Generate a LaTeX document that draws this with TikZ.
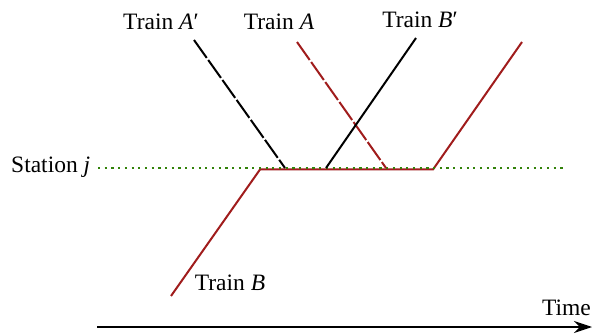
\documentclass[tikz,border=0pt]{standalone}
\usepackage{fontspec}
\setmainfont{Liberation Serif}
\usetikzlibrary{arrows.meta}
\definecolor{trainred}{RGB}{160,28,28}
\definecolor{stgreen}{RGB}{50,130,10}
\tikzset{
  lbl/.style={anchor=base, inner sep=0pt, font=\fontsize{23.5}{28}\selectfont},
  redline/.style={draw=trainred, line width=2pt},
  blackline/.style={draw=black, line width=2pt},
  longdash/.style={dash pattern=on 22pt off 2.5pt},
  station/.style={draw=stgreen, line width=2.3pt, dash pattern=on 2.2pt off 4.5pt},
  axis/.style={draw=black, line width=1.8pt, -{Stealth[length=18pt,width=12pt]}}
}
\begin{document}
\begin{tikzpicture}[x=1pt,y=-1pt]
\useasboundingbox (0,0) rectangle (593,336);
% coordinates
\coordinate (b0) at (171,296);
\coordinate (b1) at (260,169.5);
\coordinate (b2) at (433,169.5);
\coordinate (b3) at (522,42);
\coordinate (ap0) at (194,40);
\coordinate (ap1) at (285,168);
\coordinate (a0) at (297,42);
\coordinate (a1) at (386,168);
\coordinate (bp0) at (416,38);
\coordinate (bp1) at (326,168);
\coordinate (st0) at (98,168);
\coordinate (st1) at (566,168);
\coordinate (t0) at (97,327);
\coordinate (t1) at (592,327);
% lines
\draw[redline, line join=miter] (b0) -- (b1) -- (b2) -- (b3);
\draw[station] (st0) -- (st1);
\draw[blackline, longdash] (ap0) -- (ap1);
\draw[redline, longdash] (a0) -- (a1);
\draw[blackline] (bp0) -- (bp1);
\draw[axis] (t0) -- (t1);
% labels
\node[lbl] (lAp) at (161,30) {Train \textit{A}′};
\node[lbl] (lA) at (279,30) {Train \textit{A}};
\node[lbl] (lBp) at (420,28) {Train \textit{B}′};
\node[lbl] (lB) at (230,290) {Train \textit{B}};
\node[lbl, anchor=base west] (lS) at (11,173) {Station \textit{j}};
\node[lbl, anchor=base east] (lT) at (591,315) {Time};
\end{tikzpicture}
\end{document}
